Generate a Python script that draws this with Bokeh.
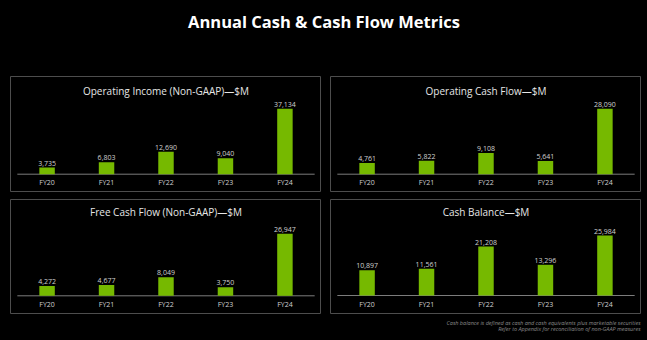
from bokeh.plotting import figure
from bokeh.models import ColumnDataSource, FactorRange, Range1d, Spacer, Label
from bokeh.layouts import column, row
from bokeh.transform import dodge
from bokeh.core.properties import value
from bokeh.embed import file_html
from bokeh.resources import INLINE

# ---------------- data ----------------
years = ["FY20", "FY21", "FY22", "FY23", "FY24"]
operating_income = [3735, 6803, 12690, 9040, 37134]
operating_cash_flow = [4761, 5822, 9108, 5641, 28090]
free_cash_flow = [4272, 4677, 8049, 3750, 26947]
cash_balance = [10897, 11561, 21208, 13296, 25984]

main_title = "Annual Cash & Cash Flow Metrics"
panel_titles = [
    "Operating Income (Non-GAAP)\u2014$M",
    "Operating Cash Flow\u2014$M",
    "Free Cash Flow (Non-GAAP)\u2014$M",
    "Cash Balance\u2014$M",
]
footnotes = [
    "Cash balance is defined as cash and cash equivalents plus marketable securities",
    "Refer to Appendix for reconciliation of non-GAAP measures",
]

# ---------------- style ----------------
GREEN = "#76b900"
BG = "#000000"
BORDER = "#4d4d4d"
FONT = "Open Sans"
W_PAGE = 647


def blank(width, height, xr, yr):
    p = figure(width=width, height=height, x_range=xr, y_range=yr,
               output_backend="svg", toolbar_location=None,
               x_axis_location=None, y_axis_location=None,
               min_border=0, background_fill_color=BG, border_fill_color=BG,
               outline_line_color=None)
    p.grid.visible = False
    return p


def panel(title, vals, w, h, base_px, top_px, title_px):
    vmax = max(vals)
    scale = (h - top_px - base_px) / vmax
    y0 = -base_px / scale
    y1 = (h - base_px) / scale
    p = figure(width=w, height=h,
               x_range=FactorRange(*years, range_padding=0.046),
               y_range=Range1d(y0, y1),
               output_backend="svg", toolbar_location=None,
               x_axis_location=None, y_axis_location=None,
               min_border=0, background_fill_color=BG, border_fill_color=BG,
               outline_line_color=BORDER, outline_line_width=1)
    p.grid.visible = False
    src = ColumnDataSource(dict(x=years, v=vals, lab=[f"{v:,}" for v in vals]))
    # baseline across the category span
    base = ColumnDataSource(dict(a=[years[0]], b=[years[-1]]))
    p.segment(x0=dodge("a", -0.5, range=p.x_range), x1=dodge("b", 0.5, range=p.x_range),
              y0=0, y1=0, source=base, line_color="#7c7c7c", line_width=1)
    p.vbar(x="x", top="v", width=0.26, source=src, fill_color=GREEN, line_color=None)
    p.text(x="x", y="v", text="lab", source=src, text_align="center",
           text_baseline="bottom", y_offset=-2, text_color="#d0d0d0",
           text_font=value(FONT), text_font_size="7px")
    p.text(x="x", y=0, text="x", source=src, text_align="center",
           text_baseline="middle", y_offset=8.5, text_color="#d0d0d0",
           text_font=value(FONT), text_font_size="7px")
    tsrc = ColumnDataSource(dict(x=[years[len(years) // 2]], y=[y1], t=[title]))
    p.text(x="x", y="y", text="t", source=tsrc, text_align="center",
           text_baseline="middle", y_offset=title_px, text_color="#e6e6e6",
           text_font=value(FONT), text_font_size="10px")
    return p


# header
header = blank(W_PAGE, 76, Range1d(0, W_PAGE), Range1d(76, 0))
header.add_layout(Label(x=W_PAGE / 2, y=21, text=main_title, text_align="center",
                        text_baseline="middle", text_color="#ffffff",
                        text_font=FONT, text_font_style="bold",
                        text_font_size="16.5px"))

p1 = panel(panel_titles[0], operating_income, 311, 116, 18.3, 32.3, 14)
p2 = panel(panel_titles[1], operating_cash_flow, 311, 116, 18.3, 32.3, 14)
p3 = panel(panel_titles[2], free_cash_flow, 311, 115, 18.7, 34.3, 12.7)
p4 = panel(panel_titles[3], cash_balance, 311, 115, 19.0, 36.0, 12.7)

row1 = row(Spacer(width=10, height=116), p1, Spacer(width=9, height=116), p2,
           Spacer(width=6, height=116), spacing=0)
gap = Spacer(width=W_PAGE, height=7)
row2 = row(Spacer(width=10, height=115), p3, Spacer(width=9, height=115), p4,
           Spacer(width=6, height=115), spacing=0)

footer = blank(W_PAGE, 26, Range1d(0, W_PAGE), Range1d(26, 0))
for i, t in enumerate(footnotes):
    footer.add_layout(Label(x=640, y=8 + 6 * i, text=t, text_align="right",
                            text_baseline="middle", text_color="#8a8a8a",
                            text_font=FONT, text_font_style="italic",
                            text_font_size="5.5px"))

root = column(header, row1, gap, row2, footer, spacing=0,
              styles={"background-color": BG})

open("out.html", "w").write(file_html(root, INLINE))
